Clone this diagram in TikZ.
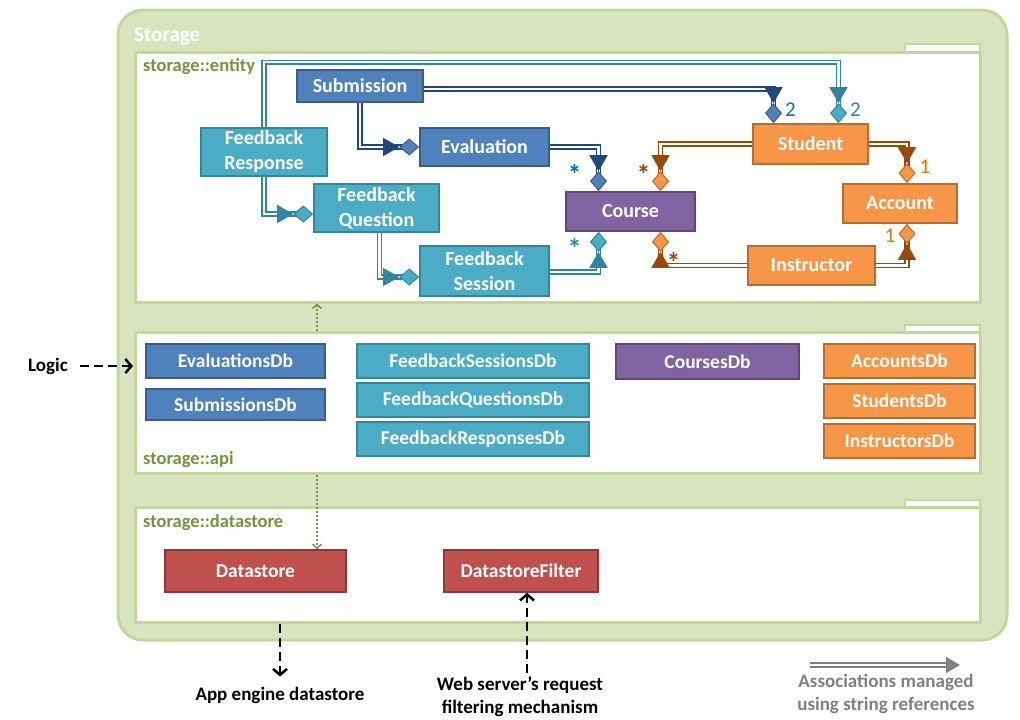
\documentclass[tikz,border=0pt]{standalone}
\usepackage{fontspec}
\setmainfont{Carlito}
\usetikzlibrary{arrows.meta,calc}
\definecolor{pkgfill}{HTML}{D7E4BD}
\definecolor{pkgline}{HTML}{C3D69B}
\definecolor{pkgtext}{HTML}{77933C}
\definecolor{blueF}{HTML}{4F81BD}
\definecolor{blueD}{HTML}{385D8A}
\definecolor{blueL}{HTML}{1F497D}
\definecolor{blueT}{HTML}{0070C0}
\definecolor{tealF}{HTML}{4BACC6}
\definecolor{tealD}{HTML}{31859C}
\definecolor{purF}{HTML}{8064A2}
\definecolor{purD}{HTML}{5C4776}
\definecolor{orgF}{HTML}{F79646}
\definecolor{orgD}{HTML}{B66D31}
\definecolor{orgL}{HTML}{984807}
\definecolor{orgT}{HTML}{E46C0A}
\definecolor{redF}{HTML}{C0504D}
\definecolor{redD}{HTML}{8C3836}
\definecolor{legendgray}{HTML}{808080}

\begin{document}
\begin{tikzpicture}[x=1pt,y=-1pt,
  box/.style={draw,line width=1.6pt,text=white,align=center,inner sep=0pt,
    font=\bfseries\fontsize{20}{25}\selectfont},
  dbbox/.style={box,font=\bfseries\fontsize{19.5}{23}\selectfont},
  bluebox/.style={fill=blueF,draw=blueD},
  tealbox/.style={fill=tealF,draw=tealD},
  purbox/.style={fill=purF,draw=purD},
  orgbox/.style={fill=orgF,draw=orgD},
  redbox/.style={fill=redF,draw=redD},
  pkg/.style={draw=pkgline,fill=white,line width=3pt,minimum width=845pt,inner sep=0pt},
  tab/.style={draw=pkgline,fill=white,line width=2pt},
  pkglabel/.style={text=pkgtext,font=\bfseries\fontsize{18.5}{22}\selectfont,inner sep=0pt},
  assoc/.style={double=white,double distance=2.2pt,line width=1.5pt},
  blueassoc/.style={assoc,draw=blueL,
    -{Triangle[length=16pt,width=18pt]Diamond[length=20pt,width=17pt,fill=blueF,color=blueD,line width=1pt]}},
  tealassoc/.style={assoc,draw=tealD,
    -{Triangle[length=16pt,width=18pt]Diamond[length=20pt,width=17pt,fill=tealF,color=tealD,line width=1pt]}},
  orgassoc/.style={assoc,draw=orgL,
    -{Triangle[length=16pt,width=18pt]Diamond[length=20pt,width=17pt,fill=orgF,color=orgD,line width=1pt]}},
  mult/.style={font=\fontsize{21}{24}\selectfont,inner sep=0pt},
  star/.style={font=\bfseries\fontsize{28}{28}\selectfont,inner sep=0pt},
  dep/.style={pkgtext,line width=1.5pt,dash pattern=on 2pt off 2pt,-{Straight Barb[length=4pt,width=9pt]}},
  ext/.style={black,line width=2.5pt,dash pattern=on 9pt off 5pt,-{Straight Barb[length=6pt,width=14pt]}},
  extlabel/.style={font=\bfseries\fontsize{19}{23}\selectfont,align=center,inner sep=0pt}]
\useasboundingbox (0,0) rectangle (1020,720);

% storage component
\draw[draw=pkgline,fill=pkgfill,line width=3pt,rounded corners=25pt] (118,10) rectangle (1007,640);
\node[anchor=west,text=white,font=\bfseries\fontsize{21}{24}\selectfont,inner sep=0pt] (storage) at (134,36) {Storage};

% packages
\draw[tab] (905,44) rectangle (980,54);
\draw[tab] (905,325) rectangle (980,335);
\draw[tab] (905,500) rectangle (980,510);
\node[pkg,minimum height=250pt] (entity) at (557.5,177) {};
\node[pkg,minimum height=141pt] (api) at (557.5,402.5) {};
\node[pkg,minimum height=115pt] (dstore) at (557.5,564.5) {};
\node[pkglabel,anchor=west] (entlbl) at (143,67) {storage::entity};
\node[pkglabel,anchor=west] (apilbl) at (143,460) {storage::api};
\node[pkglabel,anchor=west] (dslbl) at (143,523) {storage::datastore};

% entities
\node[box,bluebox,minimum width=126pt,minimum height=32pt] (sub) at (360,86) {Submission};
\node[box,bluebox,minimum width=129pt,minimum height=38pt] (eval) at (484.5,147) {Evaluation};
\node[box,tealbox,minimum width=126pt,minimum height=48pt] (fr) at (264,152) {Feedback\\Response};
\node[box,tealbox,minimum width=125pt,minimum height=48pt] (fq) at (376.5,208) {Feedback\\Question};
\node[box,tealbox,minimum width=129pt,minimum height=50pt] (fs) at (484.5,271) {Feedback\\Session};
\node[box,purbox,minimum width=129pt,minimum height=39pt] (course) at (630.5,211.5) {Course};
\node[box,orgbox,minimum width=115pt,minimum height=40pt] (stu) at (810.5,144) {Student};
\node[box,orgbox,minimum width=114pt,minimum height=39pt] (acc) at (900,203.5) {Account};
\node[box,orgbox,minimum width=127pt,minimum height=39pt] (ins) at (811.5,265.5) {Instructor};

% associations
\draw[blueassoc] (sub) |- (eval);
\draw[blueassoc] ([yshift=-3pt]sub.east) -| ([xshift=-37pt]stu.north)
  node[mult,text=blueT,at end,xshift=17pt,yshift=14pt] {2};
\draw[tealassoc] (fr) |- ([yshift=-6pt]fq.west);
\draw[tealassoc] (fr.north) -- ++(0,-65) -| ([xshift=28pt]stu.north)
  node[mult,text=tealD,at end,xshift=17pt,yshift=14pt] {2};
\draw[tealassoc] ([xshift=3pt]fq.south) |- ([yshift=-6pt]fs.west);
\draw[blueassoc] (eval) -| ([xshift=-32pt]course.north)
  node[star,text=blueT,at end,xshift=-24pt,yshift=17pt] {*};
\draw[tealassoc] ([yshift=-1pt]fs.east) -| ([xshift=-32pt]course.south)
  node[star,text=tealD,at end,xshift=-24pt,yshift=-17pt] {*};
\draw[orgassoc] (stu) -| ([xshift=30pt]course.north)
  node[star,text=orgL,at end,xshift=-17pt,yshift=17pt] {*};
\draw[orgassoc] (ins) -| ([xshift=30pt]course.south)
  node[star,text=orgL,at end,xshift=13pt,yshift=-31pt] {*};
\draw[orgassoc] (stu) -| ([xshift=7pt]acc.north)
  node[mult,text=orgT,at end,xshift=18pt,yshift=16pt] {1};
\draw[orgassoc] (ins) -| ([xshift=7pt]acc.south)
  node[mult,text=orgT,at end,xshift=-17pt,yshift=-12pt] {1};

% api
\node[dbbox,bluebox,minimum width=179pt,minimum height=34pt] (evdb) at (235.5,361) {EvaluationsDb};
\node[dbbox,bluebox,minimum width=179pt,minimum height=31pt] (subdb) at (235.5,404.5) {SubmissionsDb};
\node[dbbox,tealbox,minimum width=232pt,minimum height=34pt] (fsdb) at (473,361) {FeedbackSessionsDb};
\node[dbbox,tealbox,minimum width=232pt,minimum height=34pt] (fqdb) at (473,400) {FeedbackQuestionsDb};
\node[dbbox,tealbox,minimum width=232pt,minimum height=34pt] (frdb) at (473,439) {FeedbackResponsesDb};
\node[dbbox,purbox,minimum width=183pt,minimum height=35pt] (cdb) at (707.5,361.5) {CoursesDb};
\node[dbbox,orgbox,minimum width=151pt,minimum height=34pt] (adb) at (899.5,361) {AccountsDb};
\node[dbbox,orgbox,minimum width=151pt,minimum height=34pt] (sdb) at (899.5,401) {StudentsDb};
\node[dbbox,orgbox,minimum width=151pt,minimum height=34pt] (idb) at (899.5,441) {InstructorsDb};

% datastore
\node[dbbox,redbox,minimum width=181pt,minimum height=42pt] (ds) at (255.5,571) {Datastore};
\node[dbbox,redbox,minimum width=154pt,minimum height=42pt] (dsf) at (521,571) {DatastoreFilter};

% dependencies
\coordinate (dl) at (317,0);
\draw[dep] (api.north -| dl) -- (entity.south -| dl);
\draw[dep] (api.south -| dl) -- (ds.north -| dl);

% outside
\node[extlabel] (logic) at (48,366) {Logic};
\coordinate (apiin) at (133,366);
\draw[ext] ([xshift=12pt]logic.east) -- (apiin);
\node[extlabel] (appeng) at (280,695) {App engine datastore};
\draw[ext] (dstore.south -| appeng.north) -- ([yshift=10pt]appeng.north);
\node[extlabel] (web) at (520,697) {Web server’s request\\filtering mechanism};
\coordinate (wl) at (527,0);
\draw[ext] ([yshift=4pt]web.north -| wl) -- (dsf.south -| wl);

% legend
\coordinate (lg1) at (810,665);
\coordinate (lg2) at (960,665);
\draw[assoc,draw=legendgray,-{Triangle[length=14pt,width=16pt]}] (lg1) -- (lg2);
\node[extlabel,text=legendgray] (legend) at (886,694) {Associations managed\\using string references};
\end{tikzpicture}
\end{document}
